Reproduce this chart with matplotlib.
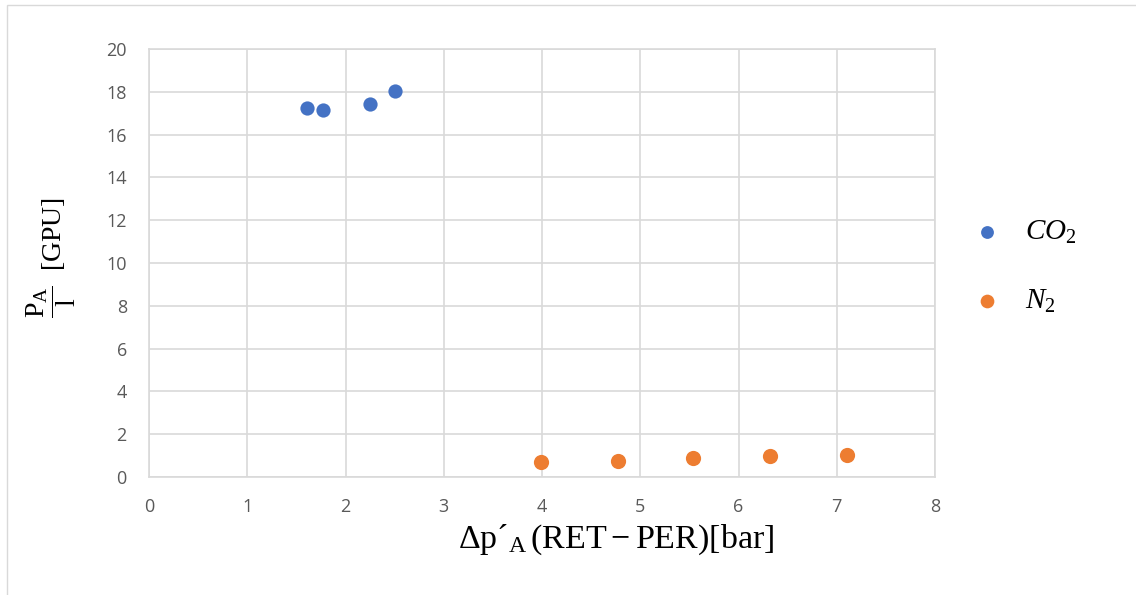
import matplotlib
matplotlib.use("Agg")
import matplotlib.pyplot as plt
from matplotlib.patches import Rectangle

# Measured permeance vs. partial pressure difference
co2_dp = [1.61, 1.77, 2.25, 2.50]
co2_perm = [17.25, 17.15, 17.45, 18.02]
n2_dp = [3.99, 4.77, 5.54, 6.32, 7.10]
n2_perm = [0.70, 0.76, 0.89, 0.98, 1.04]

x_ticks = list(range(0, 9))
y_ticks = list(range(0, 21, 2))

plt.rcParams["mathtext.fontset"] = "custom"
plt.rcParams["mathtext.rm"] = "Liberation Serif"
plt.rcParams["mathtext.it"] = "Liberation Serif:italic"

fig = plt.figure(figsize=(11.36, 5.95), dpi=100)
ax = fig.add_axes([149 / 1136, 1 - 477 / 595, (935 - 149) / 1136, (477 - 49) / 595])

# outer chart border
fig.patches.append(Rectangle((7 / 1136, -0.05), 1.2, 1 - 5 / 595 + 0.05,
                             transform=fig.transFigure, fill=False,
                             edgecolor="#d9d9d9", linewidth=1.0, zorder=0))

blue = "#4472c4"
orange = "#ed7d31"
ax.scatter(co2_dp, co2_perm, s=105, color=blue, zorder=3, label=r"$CO_2$",
           linewidths=0)
ax.scatter(n2_dp, n2_perm, s=120, color=orange, zorder=3, label=r"$N_2$",
           linewidths=0)

ax.set_xlim(0, 8)
ax.set_ylim(0, 20)
ax.set_xticks(x_ticks)
ax.set_yticks(y_ticks)
ax.grid(True, color="#d9d9d9", linewidth=1.2)
ax.set_axisbelow(True)
for side in ["top", "right", "left", "bottom"]:
    ax.spines[side].set_color("#d9d9d9")
    ax.spines[side].set_linewidth(1.2)
ax.tick_params(length=0, labelsize=13, labelcolor="#595959")
ax.tick_params(axis="x", pad=15)
ax.tick_params(axis="y", pad=16)
for lab in ax.get_xticklabels() + ax.get_yticklabels():
    lab.set_fontfamily("Open Sans")

ax.set_xlabel(r"$\Delta\mathrm{p}$´$_{\mathrm{A}}\,(\mathrm{RET} - \mathrm{PER})[\mathrm{bar}]$",
              fontsize=24.5, family="Liberation Serif")
ax.xaxis.set_label_coords((616 - 149) / (935 - 149), -(540 - 477) / (477 - 49),
                          transform=ax.transAxes)
ax.xaxis.label.set_va("center")

ax.set_ylabel(r"$\dfrac{\mathrm{P_A}}{\mathrm{l}}\ \ [\mathrm{GPU}]$", fontsize=20)
ax.yaxis.set_label_coords(-(149 - 51) / (935 - 149), (477 - 257) / (477 - 49),
                          transform=ax.transAxes)
ax.yaxis.label.set_va("center")

leg = fig.legend(loc="center left", bbox_to_anchor=(0.820, 0.553), frameon=False,
                 fontsize=21, labelspacing=1.4, handletextpad=0.3,
                 markerscale=0.9)

fig.savefig("out.png", dpi=100)
